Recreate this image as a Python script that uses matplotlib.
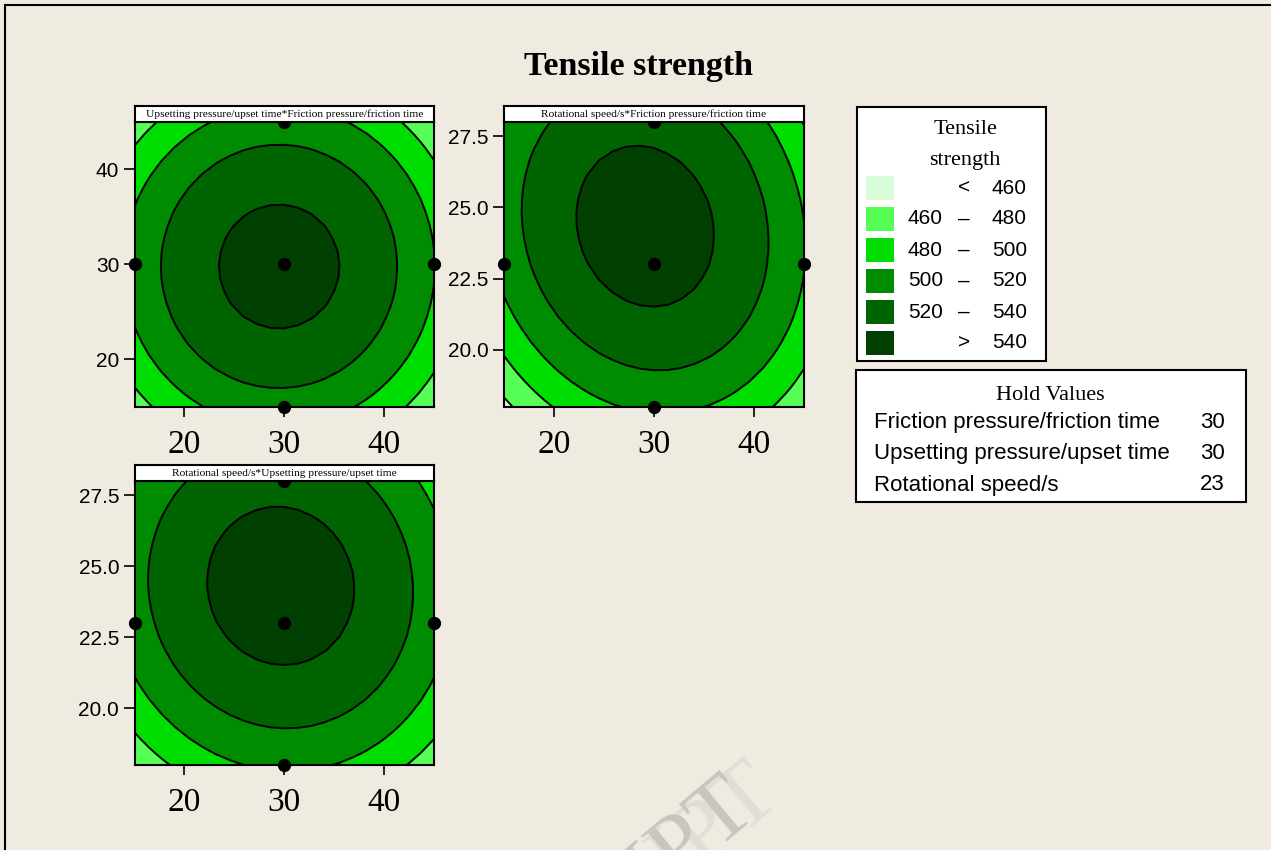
import matplotlib
matplotlib.use("Agg")
import matplotlib.pyplot as plt
import matplotlib.patches as patches
import numpy as np

# Faktoren und Haltewerte
factor_names = ["Friction pressure/friction time", "Upsetting pressure/upset time", "Rotational speed/s"]
factor_low = [15, 15, 18]
factor_high = [45, 45, 28]
hold_values = [30, 30, 23]

# Quadratisches Modell (kodierte Variablen -1..1)
intercept = 547.0
coef_linear = [-3.0, -1.0, 15.0]
coef_square = [-43.4, -37.0, -28.8]
coef_fric_ups = 0.0
coef_fric_rot = -8.0
coef_ups_rot = -3.0

# Versuchspunkte je Diagramm
pts_fric_ups_x = [30, 15, 30, 45, 30]
pts_fric_ups_y = [45, 30, 30, 30, 15]
pts_fric_rot_x = [30, 15, 30, 45, 30]
pts_fric_rot_y = [28, 23, 23, 23, 18]
pts_ups_rot_x = [30, 15, 30, 45, 30]
pts_ups_rot_y = [28, 23, 23, 23, 18]

levels = [460, 480, 500, 520, 540]
level_colors = ['#d8fcd8', '#55ff55', '#00dd00', '#008c00', '#006400', '#004000']
legend_left = ['', '460', '480', '500', '520', '']
legend_mid = ['<', '–', '–', '–', '–', '>']
legend_right = ['460', '480', '500', '520', '540', '540']

W, H = 1271, 850
bg = '#f0ebe1'


def fr(x0, y0, x1, y1):
    return [x0 / W, 1 - y1 / H, (x1 - x0) / W, (y1 - y0) / H]


def fx(x):
    return x / W


def fy(y):
    return 1 - y / H


def coded(value, i):
    mid = (factor_low[i] + factor_high[i]) / 2
    half = (factor_high[i] - factor_low[i]) / 2
    return (np.asarray(value, dtype=float) - mid) / half


def predict(f, u, r):
    c = [coded(f, 0), coded(u, 1), coded(r, 2)]
    y = intercept
    for i in range(3):
        y = y + coef_linear[i] * c[i] + coef_square[i] * c[i] ** 2
    y = y + coef_fric_ups * c[0] * c[1] + coef_fric_rot * c[0] * c[2] + coef_ups_rot * c[1] * c[2]
    return y


fig = plt.figure(figsize=(W / 100, H / 100), dpi=100, facecolor=bg)

# Rahmen
fig.patches.append(patches.Rectangle((fx(5), -0.1), 1.2, fy(5) + 0.1, transform=fig.transFigure,
                                     fill=False, edgecolor='black', linewidth=1.5))

fig.text(fx(638), fy(67), "Tensile strength", ha='center', va='center',
         fontsize=24.5, fontweight='bold', family='Liberation Serif')

panels = [
    (0, 1, (134.5, 122, 434, 407), "Upsetting pressure/upset time*Friction pressure/friction time",
     pts_fric_ups_x, pts_fric_ups_y, [20, 30, 40], ['20', '30', '40']),
    (0, 2, (504, 122, 804, 407), "Rotational speed/s*Friction pressure/friction time",
     pts_fric_rot_x, pts_fric_rot_y, [20.0, 22.5, 25.0, 27.5], ['20.0', '22.5', '25.0', '27.5']),
    (1, 2, (134.5, 481, 434, 765), "Rotational speed/s*Upsetting pressure/upset time",
     pts_ups_rot_x, pts_ups_rot_y, [20.0, 22.5, 25.0, 27.5], ['20.0', '22.5', '25.0', '27.5']),
]

for ix, iy, box, title, px, py, yt, ytl in panels:
    x0, y0, x1, y1 = box
    ax = fig.add_axes(fr(x0, y0, x1, y1))
    xs = np.linspace(factor_low[ix], factor_high[ix], 23)
    ys = np.linspace(factor_low[iy], factor_high[iy], 23)
    X, Y = np.meshgrid(xs, ys)
    args = list(hold_values)
    args[ix] = X
    args[iy] = Y
    Z = predict(*args)
    ax.contourf(X, Y, Z, levels=[0] + levels + [1000], colors=level_colors)
    ax.contour(X, Y, Z, levels=levels, colors='black', linewidths=1.4)
    ax.plot(px, py, 'o', color='black', markersize=8.5, clip_on=False, zorder=5)
    ax.set_xlim(factor_low[ix], factor_high[ix])
    ax.set_ylim(factor_low[iy], factor_high[iy])
    ax.set_xticks([20, 30, 40])
    ax.set_xticklabels(['20', '30', '40'], family='Liberation Serif', fontsize=24)
    ax.set_yticks(yt)
    ax.set_yticklabels(ytl, family='Liberation Sans', fontsize=15)
    ax.tick_params(axis='x', length=7, width=1.2, pad=9)
    ax.tick_params(axis='y', length=8, width=1.2, pad=3)
    for s in ax.spines.values():
        s.set_linewidth(1.5)

    sax = fig.add_axes(fr(x0, y0 - 16, x1, y0))
    sax.set_facecolor('white')
    sax.set_xticks([])
    sax.set_yticks([])
    for s in sax.spines.values():
        s.set_linewidth(1.5)
    sax.text(0.5, 0.5, title, ha='center', va='center', fontsize=8.2,
             family='Liberation Serif', transform=sax.transAxes)

# Legende
fig.patches.append(patches.Rectangle((fx(857), fy(361)), fx(1046) - fx(857), fy(107) - fy(361),
                                     transform=fig.transFigure, facecolor='white',
                                     edgecolor='black', linewidth=1.5))
fig.text(fx(965), fy(129), "Tensile", ha='center', va='center', fontsize=16, family='Liberation Serif')
fig.text(fx(965), fy(160), "strength", ha='center', va='center', fontsize=16, family='Liberation Serif')
for i in range(len(level_colors)):
    yc = 188 + i * 31
    fig.patches.append(patches.Rectangle((fx(866), fy(yc + 12)), fx(894) - fx(866), fy(yc - 12) - fy(yc + 12),
                                         transform=fig.transFigure, facecolor=level_colors[i],
                                         edgecolor='none'))
    fig.text(fx(943), fy(yc), legend_left[i], ha='right', va='center', fontsize=15, family='Liberation Sans')
    fig.text(fx(964), fy(yc), legend_mid[i], ha='center', va='center', fontsize=15, family='Liberation Sans')
    fig.text(fx(1027), fy(yc), legend_right[i], ha='right', va='center', fontsize=15, family='Liberation Sans')

# Haltewerte
fig.patches.append(patches.Rectangle((fx(856), fy(502)), fx(1246) - fx(856), fy(370) - fy(502),
                                     transform=fig.transFigure, facecolor='white',
                                     edgecolor='black', linewidth=1.5))
fig.text(fx(1050), fy(395), "Hold Values", ha='center', va='center', fontsize=16, family='Liberation Serif')
for i, name in enumerate(factor_names):
    yc = 423 + i * 31
    fig.text(fx(874), fy(yc), name, ha='left', va='center', fontsize=16, family='Liberation Sans')
    fig.text(fx(1225), fy(yc), str(hold_values[i]), ha='right', va='center', fontsize=16, family='Liberation Sans')

# Wasserzeichen (am unteren Rand abgeschnitten wie im Original)
for dx, dy, col in [(24, -14, '#e2ded5'), (0, 0, '#c9c6bf')]:
    fig.text(fx(760 + dx), fy(815 + dy), "ACCEPTED MANUSCRIPT", ha='right', va='baseline',
             rotation=40, rotation_mode='anchor', fontsize=66, family='Liberation Serif',
             color=col, zorder=0)

fig.savefig("out.png", dpi=100, facecolor=bg)
